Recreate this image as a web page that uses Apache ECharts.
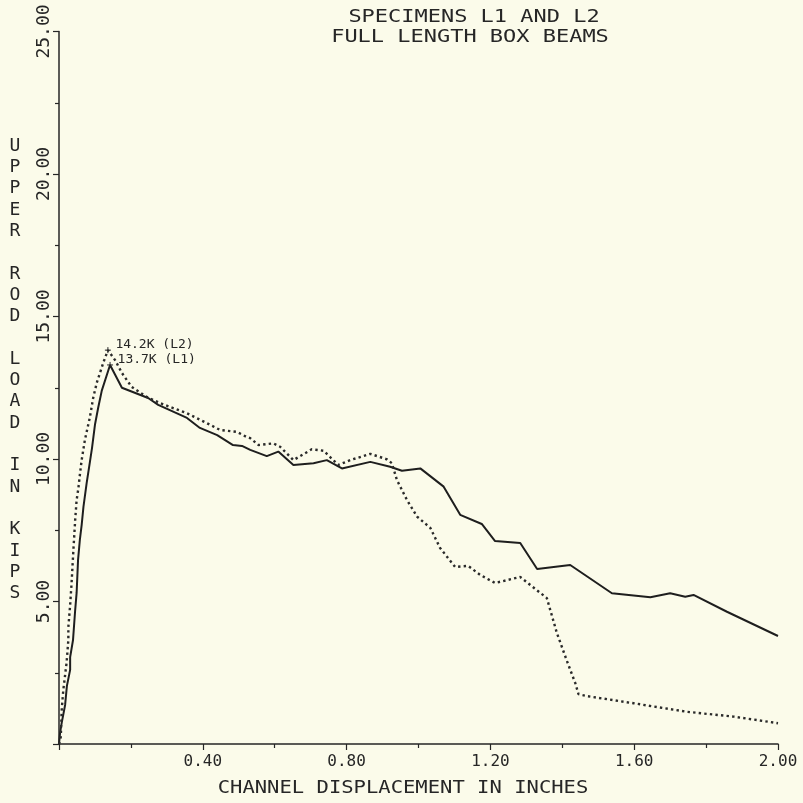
<!DOCTYPE html>
<html><head><meta charset="utf-8">
<script src="https://cdn.jsdelivr.net/npm/echarts@6/dist/echarts.min.js"></script>
<style>html,body{margin:0;padding:0;background:#fbfbea}#c{width:803px;height:803px}</style>
</head><body><div id="c"></div>
<script>
const titleLines = ['SPECIMENS L1 AND L2', 'FULL LENGTH BOX BEAMS'];
const xAxisTitle = 'CHANNEL DISPLACEMENT IN INCHES';
const yAxisTitle = 'UPPER ROD LOAD IN KIPS';
const seriesNames = ['L1', 'L2'];

// Specimen L1 (solid)
const l1Disp = [0, 0.003, 0.0075, 0.017, 0.022, 0.031, 0.031, 0.039, 0.045, 0.049, 0.053, 0.058, 0.063, 0.068, 0.077, 0.086, 0.092, 0.100, 0.109, 0.119, 0.142,
  0.175, 0.248, 0.276, 0.356, 0.392, 0.440, 0.484, 0.509, 0.532, 0.578, 0.610, 0.652, 0.708, 0.745, 0.787, 0.866, 0.921, 0.954, 1.005,
  1.070, 1.116, 1.176, 1.213, 1.283, 1.330, 1.422, 1.538, 1.645, 1.700, 1.742, 1.765, 1.858, 2.000];
const l1Load = [0, 0.39, 0.74, 1.37, 2.04, 2.6, 3.05, 3.65, 4.7, 5.3, 6.46, 7.16, 7.68, 8.32, 9.16, 9.9, 10.4, 11.2, 11.8, 12.4, 13.3,
  12.5, 12.14, 11.9, 11.44, 11.09, 10.84, 10.49, 10.46, 10.32, 10.1, 10.26, 9.79, 9.85, 9.96, 9.67, 9.9, 9.73, 9.59, 9.67,
  9.03, 8.04, 7.72, 7.12, 7.05, 6.14, 6.28, 5.29, 5.15, 5.29, 5.17, 5.23, 4.64, 3.79];

// Specimen L2 (dotted)
const l2Disp = [0, 0.005, 0.0075, 0.012, 0.021, 0.026, 0.026, 0.031, 0.035, 0.040, 0.045, 0.049, 0.054, 0.058, 0.063, 0.072, 0.086, 0.095, 0.105, 0.123, 0.136,
  0.156, 0.175, 0.202, 0.244, 0.281, 0.355, 0.411, 0.448, 0.495, 0.522, 0.532, 0.555, 0.596, 0.615, 0.652, 0.703, 0.736, 0.777, 0.810, 0.866, 0.912, 0.926,
  0.940, 0.968, 0.996, 1.033, 1.060, 1.102, 1.138, 1.172, 1.213, 1.283, 1.357, 1.385, 1.413, 1.436, 1.445, 1.469, 1.598, 1.747, 1.877, 2.000];
const l2Load = [0, 0.25, 1.19, 1.9, 2.84, 3.65, 4.1, 4.88, 5.65, 6.8, 7.86, 8.56, 8.98, 9.44, 9.96, 10.67, 11.47, 12.14, 12.67, 13.37, 13.82,
  13.47, 13.02, 12.53, 12.18, 11.96, 11.61, 11.26, 11.02, 10.95, 10.77, 10.73, 10.49, 10.55, 10.43, 9.96, 10.34, 10.29, 9.79, 9.96, 10.18, 9.99, 9.85,
  9.26, 8.56, 7.98, 7.58, 6.88, 6.21, 6.25, 5.93, 5.65, 5.86, 5.12, 3.89, 2.91, 2.14, 1.75, 1.68, 1.43, 1.13, 0.96, 0.73];

const peakLabels = ['13.7K (L1)', '14.2K (L2)'];
const peakL1 = [0.142, 13.3];
const peakL2 = [0.136, 13.82];

const INK = '#262626';
const MONO = '"DejaVu Sans Mono", "Liberation Mono", monospace';

function zip(xs, ys) { return xs.map((x, i) => [x, ys[i]]); }
const plusPath = 'path://M-1,0L1,0M0,-1L0,1';

const chart = echarts.init(document.getElementById('c'));
const yName = yAxisTitle.split(' ').map(w => w.split('').join('\n')).join('\n\n');

chart.setOption({
  backgroundColor: '#fbfbea',
  animation: false,
  grid: { left: 59, right: 25, top: 31.5, bottom: 59, containLabel: false },
  xAxis: {
    type: 'value', min: 0, max: 2, interval: 0.4,
    axisLine: { show: true, onZero: false, lineStyle: { color: INK, width: 1.5 } },
    axisTick: { show: true, length: 6, inside: false, lineStyle: { color: INK, width: 1.2 } },
    minorTick: { show: true, splitNumber: 2, length: 4, lineStyle: { color: INK, width: 1.2 } },
    splitLine: { show: false },
    axisLabel: { color: INK, fontFamily: MONO, fontSize: 16, margin: 10,
      formatter: v => v === 0 ? '' : v.toFixed(2) }
  },
  yAxis: {
    type: 'value', min: 0, max: 25, interval: 5,
    axisLine: { show: true, onZero: false, lineStyle: { color: INK, width: 1.5 } },
    axisTick: { show: true, length: 6, inside: false, lineStyle: { color: INK, width: 1.2 } },
    minorTick: { show: true, splitNumber: 2, length: 4, lineStyle: { color: INK, width: 1.2 } },
    splitLine: { show: false },
    axisLabel: { color: INK, fontFamily: MONO, fontSize: 18, margin: 6, rotate: 90,
      formatter: v => v === 0 ? '' : v.toFixed(2) }
  },
  graphic: [
    { type: 'text', x: 474, y: 17, scaleX: 1.22, style: { text: titleLines[0], fill: INK, font: '18px ' + MONO, align: 'center', verticalAlign: 'middle' } },
    { type: 'text', x: 470, y: 37, scaleX: 1.22, style: { text: titleLines[1], fill: INK, font: '18px ' + MONO, align: 'center', verticalAlign: 'middle' } },
    { type: 'text', x: 403, y: 788, scaleX: 1.14, style: { text: xAxisTitle, fill: INK, font: '18px ' + MONO, align: 'center', verticalAlign: 'middle' } },
    { type: 'text', x: 15, y: 135.5, style: { text: yName, fill: INK, font: '18px ' + MONO, lineHeight: 21.3, align: 'center', verticalAlign: 'top' } }
  ],
  series: [
    {
      name: seriesNames[0], type: 'line', data: zip(l1Disp, l1Load), showSymbol: false, symbol: 'none',
      lineStyle: { color: '#1e1e1e', width: 2 },
      markPoint: {
        symbol: plusPath, symbolSize: 6, itemStyle: { color: 'none', borderColor: INK, borderWidth: 1 },
        label: { show: true, position: 'right', distance: 2, offset: [0, -5], formatter: peakLabels[0], color: INK, fontFamily: MONO, fontSize: 13 },
        data: [{ coord: peakL1 }]
      }
    },
    {
      name: seriesNames[1], type: 'line', data: zip(l2Disp, l2Load), showSymbol: false, symbol: 'none',
      lineStyle: { color: '#2a2a2a', width: 2.4, type: [2.4, 3.2] },
      markPoint: {
        symbol: plusPath, symbolSize: 6, itemStyle: { color: 'none', borderColor: INK, borderWidth: 1 },
        label: { show: true, position: 'right', distance: 2, offset: [0, -6], formatter: peakLabels[1], color: INK, fontFamily: MONO, fontSize: 13 },
        data: [{ coord: peakL2 }]
      }
    }
  ]
});
</script></body></html>
